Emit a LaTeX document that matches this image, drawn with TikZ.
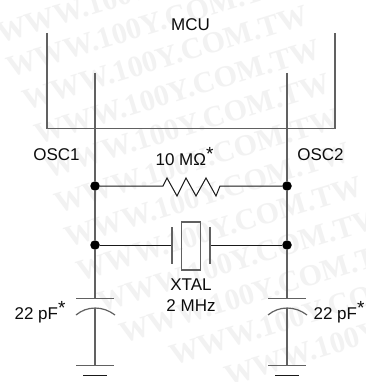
\documentclass[tikz,border=0pt]{standalone}
\usepackage{fontspec}
\setmainfont{Liberation Sans}
\newfontfamily\wmfont{Liberation Serif}
\tikzset{
  wire/.style={line width=1.2pt,draw=black!62},
  thin wire/.style={line width=1pt,draw=black!90},
  dot/.style={circle,fill=black,inner sep=0pt,minimum size=9.5pt},
  lbl/.style={font=\fontsize{17}{17}\selectfont,inner sep=0pt,text=black!95},
  wm/.style={font=\wmfont\bfseries\fontsize{30}{30}\selectfont,text=black!5,rotate=17,inner sep=0pt,anchor=west}
}
\begin{document}
\begin{tikzpicture}[x=1pt,y=-1pt]
\useasboundingbox (0,0) rectangle (365,382);
\fill[white] (0,0) rectangle (365,382);
\node[wm] (w1) at (-3,34) {WWW.100Y.COM.TW};
\node[wm] (w2) at (7,68) {WWW.100Y.COM.TW};
\node[wm] (w3) at (23,101) {WWW.100Y.COM.TW};
\node[wm] (w4) at (35,135) {WWW.100Y.COM.TW};
\node[wm] (w5) at (45,169) {WWW.100Y.COM.TW};
\node[wm] (w6) at (55,204) {WWW.100Y.COM.TW};
\node[wm] (w7) at (65,238) {WWW.100Y.COM.TW};
\node[wm] (w8) at (77,272) {WWW.100Y.COM.TW};
\node[wm] (w9) at (98,303) {WWW.100Y.COM.TW};
\node[wm] (w10) at (120,334) {WWW.100Y.COM.TW};
\node[wm] (w11) at (170,356) {WWW.100Y.COM.TW};
\node[wm] (w12) at (225,377) {WWW.100Y.COM.TW};
\node[lbl] (mcu) at (190.5,25) {MCU};
\node[lbl] (o1) at (56.5,155) {OSC1};
\node[lbl] (o2) at (320.5,155) {OSC2};
\node[lbl] (r) at (184.5,157) {10 MΩ\raisebox{5pt}{\fontsize{19}{19}\selectfont *}};
\node[lbl] (x1) at (191,285) {XTAL};
\node[lbl] (x2) at (191,306) {2 MHz};
\node[lbl] (c1) at (40,312) {22 pF\raisebox{5pt}{\fontsize{19}{19}\selectfont *}};
\node[lbl] (c2) at (339,312) {22 pF\raisebox{5pt}{\fontsize{19}{19}\selectfont *}};
\coordinate (bl) at (47,128.5);
\coordinate (br) at (335,128.5);
\coordinate (tl) at (47,33);
\coordinate (tr) at (335,33);
\draw[wire] (tl) -- (bl) -- (br) -- (tr);
\coordinate (p1) at (95,73);
\coordinate (p2) at (287,73);
\node[dot] (j1) at (95,186) {};
\node[dot] (j2) at (287,186) {};
\node[dot] (j3) at (95,245) {};
\node[dot] (j4) at (287,245) {};
\coordinate (ca) at (95,298.5);
\coordinate (cb) at (287,298.5);
\coordinate (ga) at (95,365.5);
\coordinate (gb) at (287,365.5);
\draw[wire] (p1) -- (j1) -- (j3) -- (ca);
\draw[wire] (p2) -- (j2) -- (j4) -- (cb);
\draw[wire] (76,298.5) -- (114,298.5);
\draw[wire] (268,298.5) -- (306,298.5);
\draw[wire] (76,315) .. controls (87,305.7) and (103,305.7) .. (115,315);
\draw[wire] (268,315) .. controls (279,305.7) and (295,305.7) .. (307,315);
\draw[wire] (95,308) -- (ga);
\draw[wire] (287,308) -- (gb);
\draw[wire] (76,365.5) -- (114,365.5);
\draw[wire] (268,365.5) -- (306,365.5);
\draw[thin wire] (83,375) -- (107,375);
\draw[thin wire] (275,375) -- (299,375);
\coordinate (ra) at (163,186);
\coordinate (rb) at (220,186);
\draw[thin wire] (j1) -- (ra) -- (167,178) -- (177,196) -- (186,178) -- (196,196) -- (206,178) -- (216,196) -- (rb) -- (j2);
\coordinate (xa) at (172,245);
\coordinate (xb) at (210,245);
\draw[thin wire] (j3) -- (xa);
\draw[thin wire] (xb) -- (j4);
\draw[wire] (172,227) -- (172,264);
\draw[wire] (210,227) -- (210,264);
\node[draw=black!62,line width=1.2pt,minimum width=19pt,minimum height=48pt,inner sep=0pt] (xt) at (191,246) {};
\end{tikzpicture}
\end{document}
